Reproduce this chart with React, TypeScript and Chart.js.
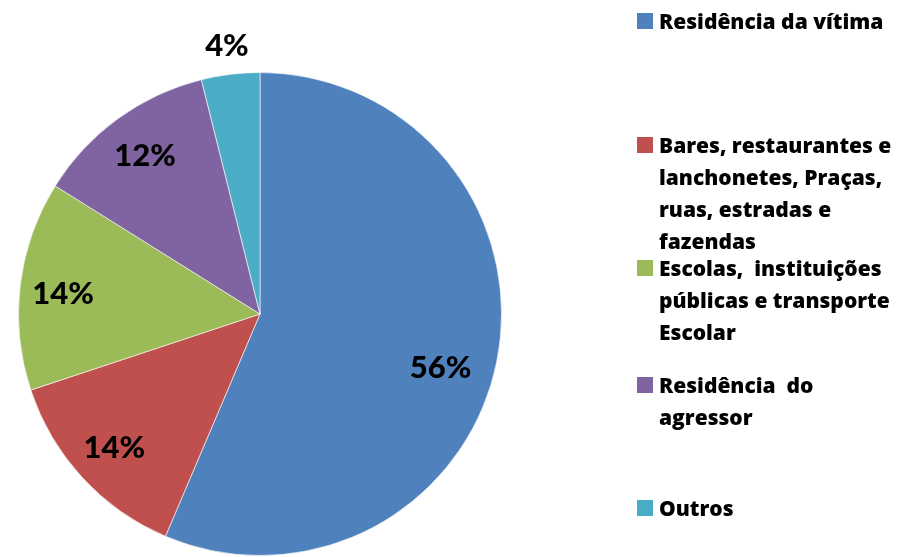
import React, { useEffect, useRef } from "react";
import { Chart, registerables } from "chart.js";

Chart.register(...registerables);

const categories: string[][] = [
  ["Residência da vítima"],
  ["Bares, restaurantes e", "lanchonetes, Praças,", "ruas, estradas e", "fazendas"],
  ["Escolas,  instituições", "públicas e transporte", "Escolar"],
  ["Residência  do", "agressor"],
  ["Outros"],
];
const values: number[] = [56.4, 13.5, 14.0, 12.2, 3.9];
const percentLabels: string[] = ["56%", "14%", "14%", "12%", "4%"];
const colors: string[] = ["#4F81BD", "#C0504D", "#9BBB59", "#8064A2", "#4BACC6"];

// label placement: radial factor and angle nudge (degrees) per slice
const labelRadius: number[] = [0.78, 0.82, 0.82, 0.81, 1.12];
const labelNudge: number[] = [5, 0, -1, 0, 0];

const legendTops = [5, 129, 252, 369, 492];

const labelPlugin = {
  id: "sliceLabels",
  afterDatasetsDraw(chart: any) {
    const { ctx } = chart;
    const meta = chart.getDatasetMeta(0);
    ctx.save();
    ctx.font = "900 31px Lato";
    ctx.fillStyle = "#000";
    ctx.textAlign = "center";
    ctx.textBaseline = "middle";
    meta.data.forEach((arc: any, i: number) => {
      const p = arc.getProps(["x", "y", "startAngle", "endAngle", "outerRadius"], true);
      const mid = (p.startAngle + p.endAngle) / 2 + (labelNudge[i] * Math.PI) / 180;
      const f = labelRadius[i];
      const x = p.x + Math.cos(mid) * p.outerRadius * f;
      const y = p.y + Math.sin(mid) * p.outerRadius * f;
      ctx.fillText(percentLabels[i], x, y);
    });
    ctx.restore();
  },
};

export default function App() {
  const ref = useRef<HTMLCanvasElement>(null);
  useEffect(() => {
    if (!ref.current) return;
    const chart = new Chart(ref.current, {
      type: "pie",
      data: {
        labels: categories as any,
        datasets: [
          {
            data: values,
            backgroundColor: colors,
            borderColor: "rgba(255,255,255,0.6)",
            borderWidth: 1,
          },
        ],
      },
      options: {
        animation: false,
        responsive: false,
        layout: { padding: { left: 18, top: 72, right: 396, bottom: 1 } },
        plugins: { legend: { display: false }, tooltip: { enabled: false } },
      },
      plugins: [labelPlugin],
    });
    return () => chart.destroy();
  }, []);

  return (
    <div style={{ position: "absolute", left: 0, top: 0, width: 898, height: 557, background: "#fff", overflow: "hidden" }}>
      <canvas ref={ref} width={898} height={557} style={{ position: "absolute", left: 0, top: 0 }} />
      {categories.map((lines, i) => (
        <div key={i} style={{ position: "absolute", left: 637, top: legendTops[i] }}>
          <div style={{ position: "absolute", left: 0, top: 8, width: 16, height: 16, background: colors[i] }} />
          <div
            style={{
              position: "absolute",
              left: 22,
              top: 0,
              fontFamily: "'Open Sans'",
              fontWeight: 800,
              fontSize: 21,
              lineHeight: "32px",
              color: "#000",
              whiteSpace: "pre",
            }}
          >
            {lines.join("\n")}
          </div>
        </div>
      ))}
    </div>
  );
}
